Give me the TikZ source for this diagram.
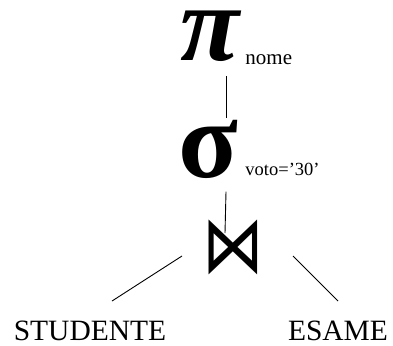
\documentclass[tikz,border=0pt]{standalone}
\usepackage{fontspec}
\setmainfont{Liberation Serif}
\newfontfamily\symfont{DejaVu Sans}
\usetikzlibrary{calc}

\begin{document}
\begin{tikzpicture}[x=1pt,y=-1pt,line width=0.9pt,
  op/.style={inner sep=0pt,font=\bfseries\fontsize{110}{110}\selectfont},
  lbl/.style={inner sep=0pt,anchor=base west,font=\fontsize{21}{21}\selectfont},
  rel/.style={inner sep=0pt,anchor=base,font=\fontsize{29.5}{29.5}\selectfont}]
 \useasboundingbox (0,0) rectangle (393,345);
 \node[op,font=\bfseries\itshape\fontsize{108}{108}\selectfont] (proj) at (209.5,36) {π}; \node[lbl] (nome) at (245,64) {nome};
 \node[op] (sel) at (208,149) {σ}; \node[lbl,font=\fontsize{18.5}{18.5}\selectfont] (cond) at (245,175) {voto=’30’};
 \node[inner sep=0pt,xscale=0.77,font=\symfont\fontsize{80}{80}\selectfont] (join) at (233,247.5) {⋈};
 \node[rel] (stud) at (90,340) {STUDENTE}; \node[rel] (esame) at (338,340) {ESAME};
 \draw ([xshift=16.5pt,yshift=-14pt]proj.south) -- ([xshift=18pt,yshift=1pt]sel.north);
 \draw ([xshift=18pt,yshift=-13pt]sel.south) -- ([xshift=-8pt,yshift=14.5pt]join.center);
 \draw ([xshift=22pt,yshift=19pt]stud.north) -- ([xshift=-51pt,yshift=-8.5pt]join.center);
 \draw ([yshift=19pt]esame.north) -- ([xshift=60pt,yshift=-8.5pt]join.center);
\end{tikzpicture}
\end{document}
